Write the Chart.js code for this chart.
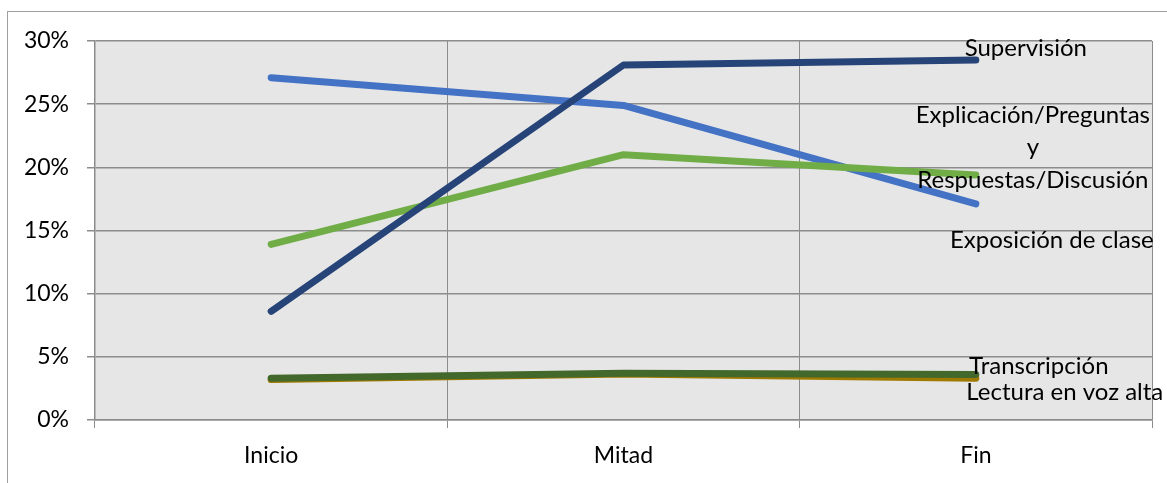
<!DOCTYPE html>
<html>
<head>
<meta charset="utf-8">
<script src="https://cdn.jsdelivr.net/npm/chart.js@4/dist/chart.umd.min.js"></script>
<style>
  html, body { margin: 0; padding: 0; background: #fff; overflow: hidden; }
  #frame { position: absolute; left: 7px; top: 11px; width: 1300px; height: 600px; border: 1px solid #a0a0a0; }
  #wrap { position: absolute; left: 0; top: 0; width: 1167px; height: 483px; }
</style>
</head>
<body>
<div id="frame"></div>
<div id="wrap"><canvas id="chart"></canvas></div>
<script>
// Datos
const etapas = ["Inicio", "Mitad", "Fin"];
const supervision = [8.6, 28.1, 28.5];
const explicacion = [13.9, 21.0, 19.4];
const exposicion = [27.1, 24.9, 17.1];
const transcripcion = [3.3, 3.7, 3.6];
const lectura = [3.2, 3.65, 3.3];
const yTicks = [0, 5, 10, 15, 20, 25, 30];

const fuente = "Lato, 'Open Sans', sans-serif";

// Etiquetas al final de cada línea (desplazamiento respecto al último punto)
const etiquetas = [
  { lines: ["Supervisión"], dx: 50, dy: -12, gap: 33 },
  { lines: ["Explicación/Preguntas", "y", "Respuestas/Discusión"], dx: 57, dy: -60, gap: 32.5 },
  { lines: ["Exposición de clase"], dx: 76, dy: 36, gap: 33 },
  { lines: ["Transcripción"], dx: 63, dy: -8, gap: 33 },
  { lines: ["Lectura en voz alta"], dx: 89, dy: 14, gap: 33 }
];

// Fondo gris del área del gráfico
const fondoPlot = {
  id: "fondoPlot",
  beforeDraw(chart) {
    const a = chart.chartArea;
    const ctx = chart.ctx;
    ctx.save();
    ctx.fillStyle = "#e6e6e6";
    ctx.fillRect(a.left, a.top, a.right - a.left, a.bottom - a.top);
    ctx.restore();
  }
};

// Texto de las series junto al último punto
const etiquetasFin = {
  id: "etiquetasFin",
  afterDatasetsDraw(chart) {
    const ctx = chart.ctx;
    ctx.save();
    ctx.font = "24px " + fuente;
    ctx.fillStyle = "#000";
    ctx.textAlign = "center";
    ctx.textBaseline = "middle";
    chart.data.datasets.forEach((ds, i) => {
      const meta = chart.getDatasetMeta(i);
      const p = meta.data[meta.data.length - 1];
      const e = etiquetas[i];
      e.lines.forEach((t, k) => {
        ctx.fillText(t, p.x + e.dx, p.y + e.dy + k * e.gap);
      });
    });
    ctx.restore();
  }
};

function serie(datos, color) {
  return {
    data: datos,
    borderColor: color,
    backgroundColor: color,
    borderWidth: 7,
    borderCapStyle: "round",
    borderJoinStyle: "round",
    pointRadius: 0,
    tension: 0,
    fill: false
  };
}

new Chart(document.getElementById("chart"), {
  type: "line",
  data: {
    labels: etapas,
    datasets: [
      serie(supervision, "#264478"),
      serie(explicacion, "#70ad47"),
      serie(exposicion, "#4472c4"),
      serie(transcripcion, "#43682b"),
      serie(lectura, "#9e7a00")
    ]
  },
  options: {
    responsive: true,
    maintainAspectRatio: false,
    animation: false,
    layout: { padding: { left: 0, top: 41, right: 15, bottom: 0 } },
    plugins: { legend: { display: false }, tooltip: { enabled: false } },
    scales: {
      x: {
        offset: true,
        grid: { offset: true, color: "#8c8c8c", lineWidth: 1, tickLength: 8 },
        border: { color: "#8c8c8c", width: 1.5 },
        ticks: { color: "#000", font: { family: fuente, size: 23 }, padding: 14, maxRotation: 0 },
        afterFit(scale) { scale.height = 63; }
      },
      y: {
        min: 0,
        max: 30,
        afterBuildTicks(scale) { scale.ticks = yTicks.map(v => ({ value: v })); },
        grid: { color: "#8c8c8c", lineWidth: 1.5, tickLength: 8 },
        border: { color: "#8c8c8c", width: 1.5 },
        ticks: { color: "#000", font: { family: fuente, size: 23 }, padding: 18, callback: v => v + "%" },
        afterFit(scale) { scale.width = 95; }
      }
    }
  },
  plugins: [fondoPlot, etiquetasFin]
});
</script>
</body>
</html>
